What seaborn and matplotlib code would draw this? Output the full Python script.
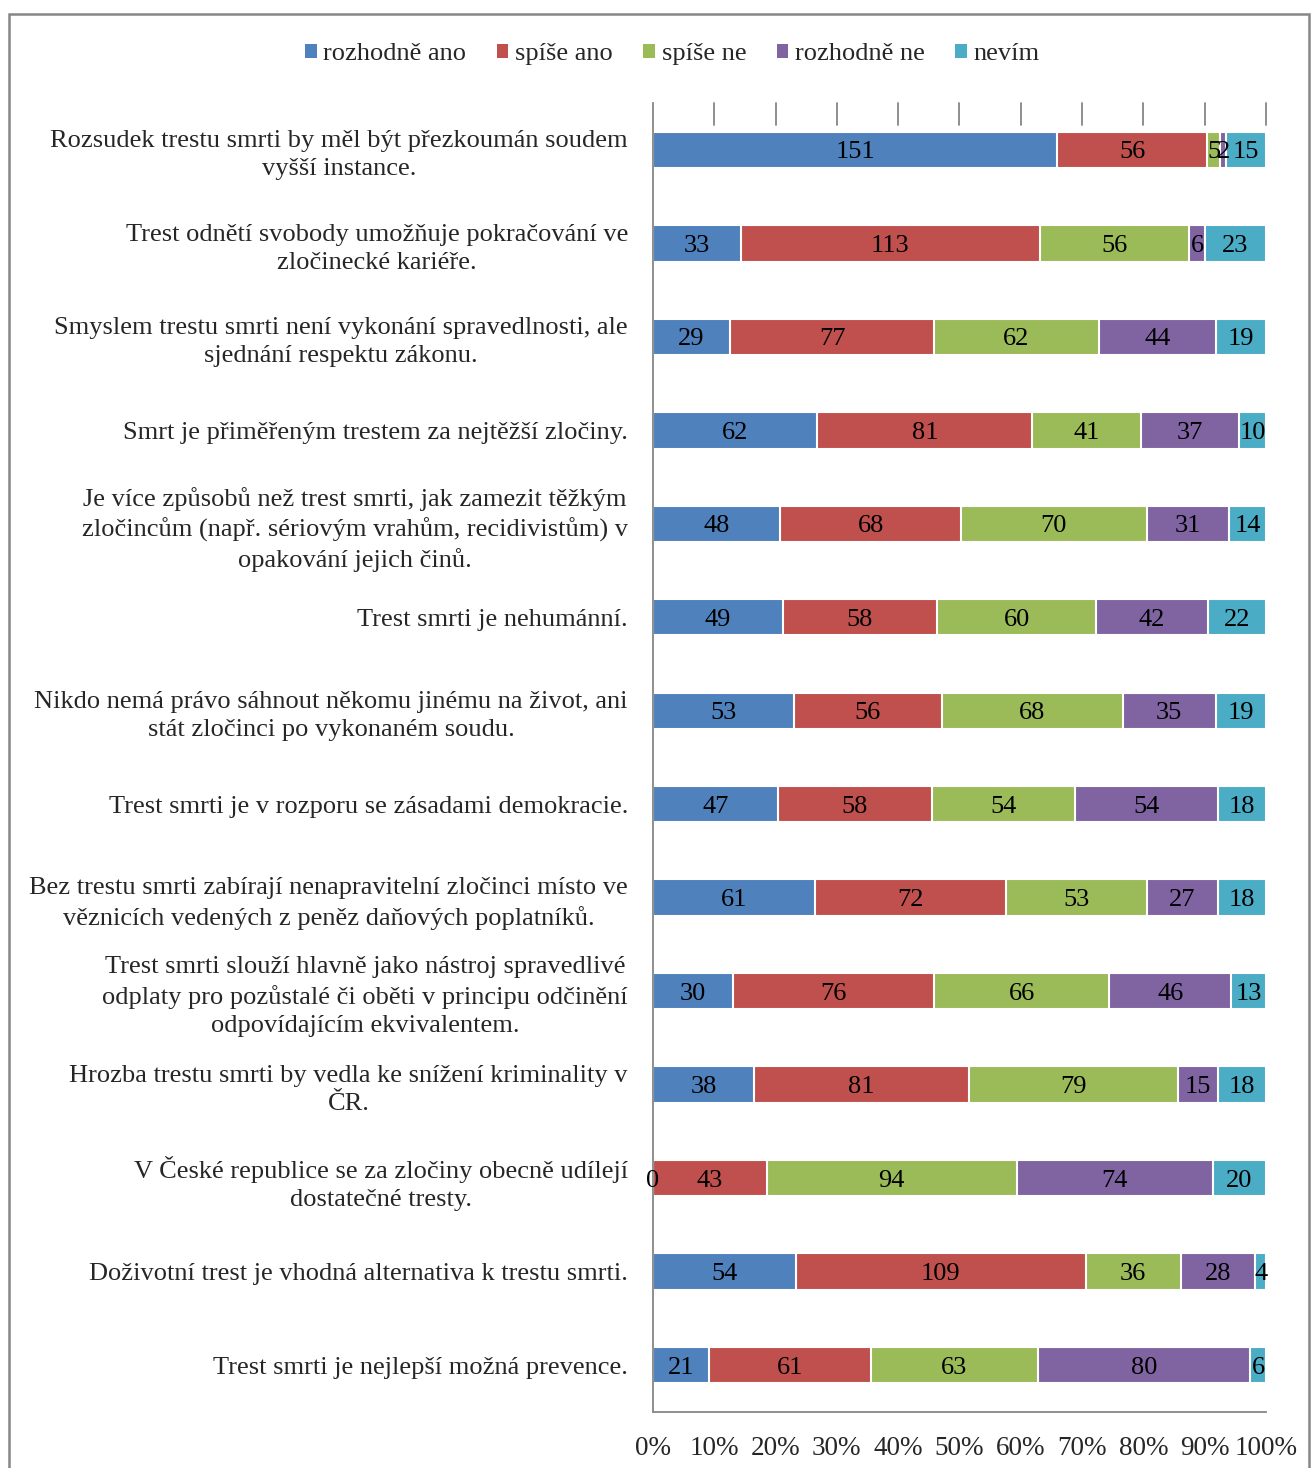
import matplotlib
matplotlib.use("Agg")
import matplotlib.pyplot as plt
from matplotlib.patches import Rectangle, Patch
import seaborn as sns
import pandas as pd
import numpy as np

categories = [
    "Rozsudek trestu smrti by měl být přezkoumán soudem\nvyšší instance.",
    "Trest odnětí svobody umožňuje pokračování ve\nzločinecké kariéře.",
    "Smyslem trestu smrti není vykonání spravedlnosti, ale\nsjednání respektu zákonu.",
    "Smrt je přiměřeným trestem za nejtěžší zločiny.",
    "Je více způsobů než trest smrti, jak zamezit těžkým\nzločincům (např. sériovým vrahům, recidivistům) v\nopakování jejich činů.",
    "Trest smrti je nehumánní.",
    "Nikdo nemá právo sáhnout někomu jinému na život, ani\nstát zločinci po vykonaném soudu.",
    "Trest smrti je v rozporu se zásadami demokracie.",
    "Bez trestu smrti zabírají nenapravitelní zločinci místo ve\nvěznicích vedených z peněz daňových poplatníků.",
    "Trest smrti slouží hlavně jako nástroj spravedlivé\nodplaty pro pozůstalé či oběti v principu odčinění\nodpovídajícím ekvivalentem.",
    "Hrozba trestu smrti by vedla ke snížení kriminality v\nČR.",
    "V České republice se za zločiny obecně udílejí\ndostatečné tresty.",
    "Doživotní trest je vhodná alternativa k trestu smrti.",
    "Trest smrti je nejlepší možná prevence.",
]
series_names = ["rozhodně ano", "spíše ano", "spíše ne", "rozhodně ne", "nevím"]
rozhodne_ano = [151, 33, 29, 62, 48, 49, 53, 47, 61, 30, 38, 0, 54, 21]
spise_ano = [56, 113, 77, 81, 68, 58, 56, 58, 72, 76, 81, 43, 109, 61]
spise_ne = [5, 56, 62, 41, 70, 60, 68, 54, 53, 66, 79, 94, 36, 63]
rozhodne_ne = [2, 6, 44, 37, 31, 42, 35, 54, 27, 46, 15, 74, 28, 80]
nevim = [15, 23, 19, 10, 14, 22, 19, 18, 18, 13, 18, 20, 4, 6]
colors = ["#4F81BD", "#C0504D", "#9BBB59", "#8064A2", "#4BACC6"]

values = np.array([rozhodne_ano, spise_ano, spise_ne, rozhodne_ne, nevim], dtype=float)
totals = values.sum(axis=0)
pct = values / totals * 100
cum = np.cumsum(pct, axis=0)

df = pd.DataFrame({"kategorie": categories})
for i, name in enumerate(series_names):
    df[name] = cum[i]

sns.set_theme(style="white")
plt.rcParams["font.family"] = ["Liberation Serif", "DejaVu Serif"]
FS = 19

fig = plt.figure(figsize=(13.13, 14.68), dpi=100)
ax = fig.add_axes([0.4973, 0.0382, 0.4669, 0.8916])

for i in range(len(series_names) - 1, -1, -1):
    sns.barplot(data=df, x=series_names[i], y="kategorie", order=categories,
                color=colors[i], orient="h", ax=ax, width=0.39,
                edgecolor="white", linewidth=1.5, saturation=1)

# value labels
starts = np.vstack([np.zeros(len(categories)), cum[:-1]])
for i in range(len(series_names)):
    for j in range(len(categories)):
        mid = starts[i, j] + pct[i, j] / 2
        ax.text(mid, j, f"{int(values[i, j])}", ha="center", va="center_baseline",
                fontsize=FS, color="black")

ax.set_xlim(0, 100)
ax.set_ylim(len(categories) - 0.5, -0.5)
ax.set_xlabel("")
ax.set_ylabel("")
ax.set_xticks(np.arange(0, 101, 10))
ax.set_xticklabels([f"{v}%" for v in range(0, 101, 10)], fontsize=19.5)
ax.tick_params(axis="x", which="major", direction="inout", length=14, width=1.3,
               color="#868686", pad=10, top=False)
ax.set_yticks(range(len(categories)))
ax.set_yticklabels(categories, fontsize=FS, ha="right", multialignment="center",
                   linespacing=1.35)
ax.tick_params(axis="y", which="major", length=0, pad=18)
ax.set_yticks(np.arange(-0.5, len(categories), 1), minor=True)
ax.tick_params(axis="y", which="minor", direction="out", length=8, width=1.3, color="#868686")

for s in ["top", "right"]:
    ax.spines[s].set_visible(False)
for s in ["left", "bottom"]:
    ax.spines[s].set_color("#868686")
    ax.spines[s].set_linewidth(1.3)

# top ticks inside
for v in range(10, 101, 10):
    ax.plot([v, v], [-0.5, -0.26], color="#868686", lw=1.3, clip_on=False)

# legend
handles = [Patch(facecolor=c, edgecolor="none") for c in colors]
fig.legend(handles, series_names, loc="center", bbox_to_anchor=(0.512, 0.963),
           ncol=5, frameon=False, fontsize=FS, handlelength=0.45, handleheight=0.45,
           handletextpad=0.25, columnspacing=1.15)

# outer border
fig.patches.append(Rectangle((9 / 1313, -0.1), 1300 / 1313, 1.1 - 14 / 1468,
                             transform=fig.transFigure, fill=False,
                             edgecolor="#868686", linewidth=1.8))

fig.savefig("out.png", dpi=100)
